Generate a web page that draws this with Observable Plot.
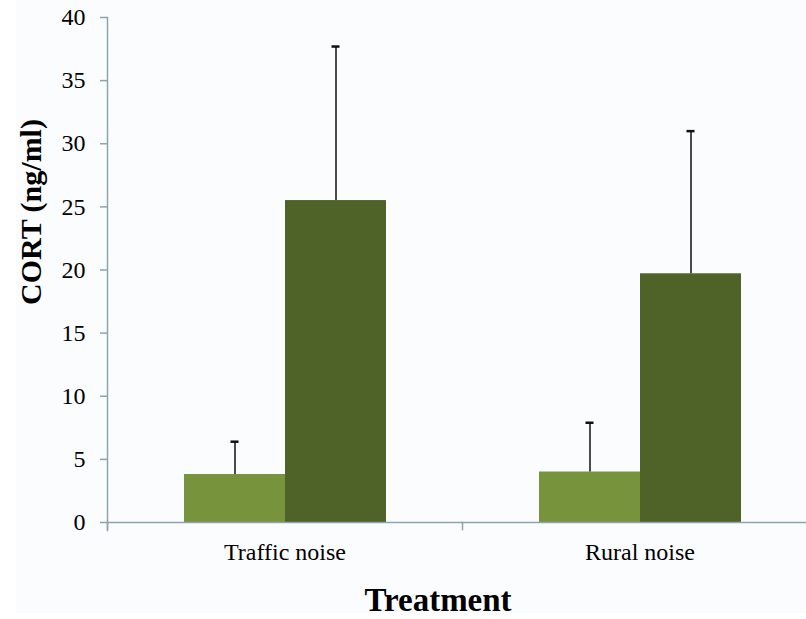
<!DOCTYPE html>
<html>
<head>
<meta charset="utf-8">
<script src="https://cdn.jsdelivr.net/npm/d3@7"></script>
<script src="https://cdn.jsdelivr.net/npm/@observablehq/plot@0.6"></script>
<style>
  body { margin: 0; background: #ffffff; }
  #wrap { position: relative; width: 806px; height: 619px; overflow: hidden; font-family: "Liberation Serif", serif; color: #000; }
  #bg { position: absolute; left: 16px; top: 0; width: 790px; height: 613px; background: #fbfcfe; }
  #chart { position: absolute; left: 0; top: 0; }
  #ylab { position: absolute; left: 31px; top: 212px; transform: translate(-50%, -50%) rotate(-90deg); white-space: nowrap; font-weight: bold; font-size: 30px; line-height: 1; }
  #xlab { position: absolute; left: 438px; top: 584px; transform: translateX(-50%); white-space: nowrap; font-weight: bold; font-size: 33px; line-height: 1; }
</style>
</head>
<body>
<div id="wrap">
  <div id="bg"></div>
  <div id="chart"></div>
  <div id="ylab">CORT (ng/ml)</div>
  <div id="xlab">Treatment</div>
</div>
<script>
// Data
const groups = ["Traffic noise", "Rural noise"];
const series = ["light", "dark"];
const lightMeans = [3.8, 4.0];
const darkMeans = [25.5, 19.7];
const lightErrors = [2.6, 3.9];
const darkErrors = [12.2, 11.3];
const yTicks = [0, 5, 10, 15, 20, 25, 30, 35, 40];
const seriesColors = ["#77933c", "#4f6228"];
const axisColor = "#8fa3ae";

const rows = [];
groups.forEach((g, i) => {
  rows.push({group: g, series: "light", value: lightMeans[i], err: lightErrors[i]});
  rows.push({group: g, series: "dark", value: darkMeans[i], err: darkErrors[i]});
});

const chart = Plot.plot({
  width: 806,
  height: 619,
  marginTop: 17,
  marginBottom: 97,
  marginLeft: 107,
  marginRight: 0,
  style: {background: "transparent", fontFamily: "'Liberation Serif', serif", fontSize: "24px", color: "#000", overflow: "visible"},
  fx: {domain: groups, range: [106.5, 816.5], padding: 0, axis: "bottom", tickSize: 0, tickPadding: 20, label: null},
  x: {domain: series, paddingInner: 0, paddingOuter: 0.749, axis: null},
  y: {domain: [0, 40], axis: null},
  color: {domain: series, range: seriesColors},
  marks: [
    Plot.barY(rows, {fx: "group", x: "series", y: "value", fill: "series"}),
    Plot.ruleY([0], {stroke: axisColor, strokeWidth: 1.5}),
    Plot.frame({anchor: "left", facetAnchor: "left", stroke: axisColor, strokeWidth: 1.5, insetBottom: -8}),
    Plot.frame({anchor: "left", stroke: axisColor, strokeWidth: 1.5, insetTop: 505, insetBottom: -7}),
    Plot.ruleX(rows, {fx: "group", x: "series", y1: "value", y2: d => d.value + d.err, stroke: "#111", strokeWidth: 1.5}),
    Plot.tickY(rows, {fx: "group", x: "series", y: d => d.value + d.err, stroke: "#111", strokeWidth: 2.5, insetLeft: 46.5, insetRight: 46.5}),
    Plot.axisY(yTicks, {anchor: "left", tickSize: 7, tickPadding: 15, stroke: axisColor, strokeWidth: 1.5, fill: "#000", label: null})
  ]
});
document.getElementById("chart").appendChild(chart);
</script>
</body>
</html>
